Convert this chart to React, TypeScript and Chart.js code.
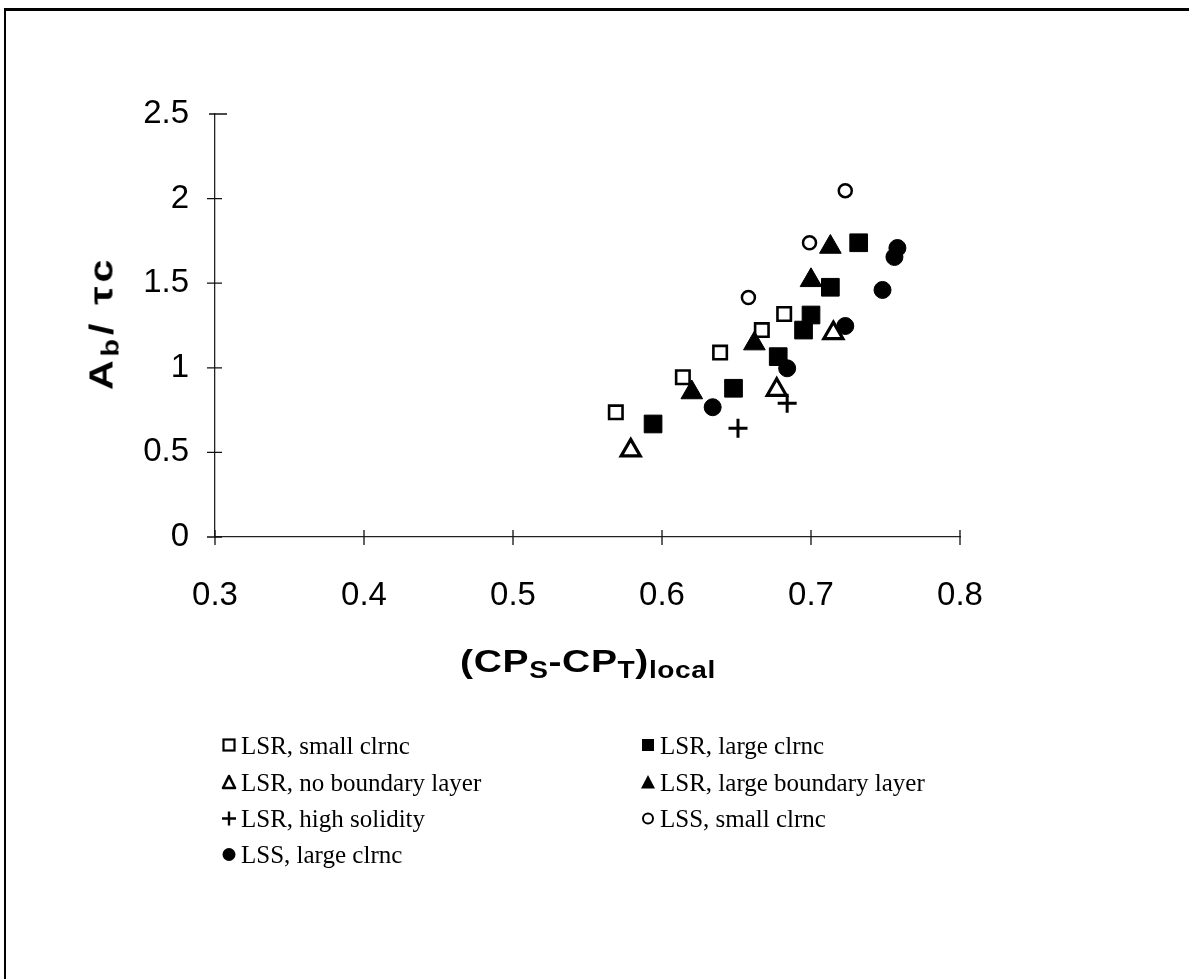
import React, { useEffect, useRef } from "react";
import { Chart, registerables } from "chart.js";

Chart.register(...registerables);

// ---- Data ----
const xTickValues = [0.3, 0.4, 0.5, 0.6, 0.7, 0.8];
const xTickLabels = ["0.3", "0.4", "0.5", "0.6", "0.7", "0.8"];
const yTickValues = [0, 0.5, 1, 1.5, 2, 2.5];
const yTickLabels = ["0", "0.5", "1", "1.5", "2", "2.5"];

const seriesNames = [
  "LSR, small clrnc",
  "LSR, large clrnc",
  "LSR, no boundary layer",
  "LSR, large boundary layer",
  "LSR, high solidity",
  "LSS, small clrnc",
  "LSS, large clrnc",
];

const lsrSmallX = [0.569, 0.614, 0.639, 0.667, 0.682];
const lsrSmallY = [0.737, 0.944, 1.09, 1.223, 1.318];
const lsrLargeX = [0.594, 0.648, 0.678, 0.695, 0.7, 0.713, 0.732];
const lsrLargeY = [0.668, 0.879, 1.066, 1.223, 1.312, 1.476, 1.739];
const lsrNoBLX = [0.579, 0.677, 0.715];
const lsrNoBLY = [0.512, 0.87, 1.205];
const lsrLargeBLX = [0.62, 0.662, 0.7, 0.713];
const lsrLargeBLY = [0.854, 1.143, 1.517, 1.714];
const lsrHighSolX = [0.651, 0.684];
const lsrHighSolY = [0.642, 0.79];
const lssSmallX = [0.658, 0.699, 0.723];
const lssSmallY = [1.415, 1.739, 2.047];
const lssLargeX = [0.634, 0.684, 0.723, 0.748, 0.756, 0.758];
const lssLargeY = [0.767, 0.997, 1.247, 1.46, 1.655, 1.708];

const toPoints = (xs: number[], ys: number[]) => xs.map((x, i) => ({ x, y: ys[i] }));

type MarkerKind = "openSquare" | "filledSquare" | "openTriangle" | "filledTriangle" | "plus" | "openCircle" | "filledCircle";

const seriesStyles: { kind: MarkerKind; pointStyle: any; radius: number; bw: number; filled: boolean }[] = [
  { kind: "openSquare", pointStyle: "rect", radius: 9.5, bw: 2.6, filled: false },
  { kind: "filledSquare", pointStyle: "rect", radius: 12.5, bw: 1, filled: true },
  { kind: "openTriangle", pointStyle: "triangle", radius: 11, bw: 3.2, filled: false },
  { kind: "filledTriangle", pointStyle: "triangle", radius: 12.5, bw: 1, filled: true },
  { kind: "plus", pointStyle: "cross", radius: 9.5, bw: 3, filled: false },
  { kind: "openCircle", pointStyle: "circle", radius: 6.5, bw: 2.5, filled: false },
  { kind: "filledCircle", pointStyle: "circle", radius: 8.5, bw: 1, filled: true },
];

const seriesData = [
  toPoints(lsrSmallX, lsrSmallY),
  toPoints(lsrLargeX, lsrLargeY),
  toPoints(lsrNoBLX, lsrNoBLY),
  toPoints(lsrLargeBLX, lsrLargeBLY),
  toPoints(lsrHighSolX, lsrHighSolY),
  toPoints(lssSmallX, lssSmallY),
  toPoints(lssLargeX, lssLargeY),
];

// ---- Layout constants ----
const W = 1189;
const H = 979;
const AREA_LEFT = 215;
const AREA_RIGHT = 960;
const AREA_TOP = 114;
const AREA_BOTTOM = 537;
const Y_AXIS_W = 80;
const X_AXIS_H = 70;

const crossTicks = {
  id: "crossTicks",
  afterDraw(chart: any) {
    const { ctx, scales } = chart;
    const xs = scales.x;
    const ys = scales.y;
    ctx.save();
    ctx.strokeStyle = "#111";
    ctx.lineWidth = 1.3;
    ctx.beginPath();
    xs.ticks.forEach((t: any) => {
      const px = xs.getPixelForValue(t.value);
      ctx.moveTo(px, ys.bottom - 7);
      ctx.lineTo(px, ys.bottom + 8);
    });
    ys.ticks.forEach((t: any) => {
      const py = ys.getPixelForValue(t.value);
      if (t.value === ys.max) {
        ctx.moveTo(xs.left - 6, py);
        ctx.lineTo(xs.left + 12, py);
      } else {
        ctx.moveTo(xs.left - 8, py);
        ctx.lineTo(xs.left + 7, py);
      }
    });
    ctx.stroke();
    ctx.restore();
  },
};

function LegendMarker({ kind }: { kind: MarkerKind }) {
  const s = 16;
  let el: any = null;
  switch (kind) {
    case "openSquare":
      el = <rect x={2.5} y={3} width={11} height={11} fill="none" stroke="#000" strokeWidth={2.2} />;
      break;
    case "filledSquare":
      el = <rect x={2} y={2.5} width={12} height={12} fill="#000" />;
      break;
    case "openTriangle":
      el = <polygon points="8,2.5 14,14.5 2,14.5" fill="none" stroke="#000" strokeWidth={2.6} strokeLinejoin="round" />;
      break;
    case "filledTriangle":
      el = <polygon points="8,1.5 15,15 1,15" fill="#000" />;
      break;
    case "plus":
      el = (
        <g stroke="#000" strokeWidth={2.4}>
          <line x1={1} y1={9} x2={15} y2={9} />
          <line x1={8} y1={2} x2={8} y2={16} />
        </g>
      );
      break;
    case "openCircle":
      el = <circle cx={8} cy={9} r={5} fill="none" stroke="#000" strokeWidth={2} />;
      break;
    case "filledCircle":
      el = <circle cx={8} cy={9} r={6.5} fill="#000" />;
      break;
  }
  return (
    <svg width={s} height={s + 2} style={{ display: "block" }}>
      {el}
    </svg>
  );
}

const legendPos = [
  { left: 221, top: 745 },
  { left: 640, top: 745 },
  { left: 221, top: 782 },
  { left: 640, top: 782 },
  { left: 221, top: 818 },
  { left: 640, top: 818 },
  { left: 221, top: 854 },
];

export default function App() {
  const canvasRef = useRef<HTMLCanvasElement | null>(null);

  useEffect(() => {
    const canvas = canvasRef.current;
    if (!canvas) return;
    const tickFont = { family: "'Liberation Sans', Arial, sans-serif", size: 33 };
    const chart = new Chart(canvas, {
      type: "scatter",
      data: {
        datasets: seriesData.map((pts, i) => {
          const st = seriesStyles[i];
          return {
            label: seriesNames[i],
            data: pts,
            pointStyle: st.pointStyle,
            pointRadius: st.radius,
            pointBorderWidth: st.bw,
            pointBorderColor: "#000",
            pointBackgroundColor: st.filled ? "#000" : "rgba(255,255,255,0)",
            showLine: false,
          };
        }),
      },
      options: {
        animation: false,
        responsive: false,
        maintainAspectRatio: false,
        events: [],
        layout: {
          padding: {
            left: AREA_LEFT - Y_AXIS_W,
            right: W - AREA_RIGHT,
            top: AREA_TOP,
            bottom: H - AREA_BOTTOM - X_AXIS_H,
          },
        },
        plugins: {
          legend: { display: false },
          tooltip: { enabled: false },
          title: { display: false },
        },
        scales: {
          x: {
            type: "linear",
            min: 0.3,
            max: 0.8,
            afterBuildTicks: (s: any) => {
              s.ticks = xTickValues.map((v) => ({ value: v }));
            },
            afterFit: (s: any) => {
              s.height = X_AXIS_H;
            },
            ticks: {
              font: tickFont,
              color: "#000",
              padding: 39,
              maxRotation: 0,
              autoSkip: false,
              callback: (_v: any, i: number) => xTickLabels[i],
            },
            grid: { display: true, drawOnChartArea: false, drawTicks: false },
            border: { display: true, color: "#222", width: 1.3, dash: [7, 3, 2, 3] },
          },
          y: {
            type: "linear",
            min: 0,
            max: 2.5,
            afterBuildTicks: (s: any) => {
              s.ticks = yTickValues.map((v) => ({ value: v }));
            },
            afterFit: (s: any) => {
              s.width = Y_AXIS_W;
            },
            ticks: {
              font: tickFont,
              color: "#000",
              padding: 26,
              autoSkip: false,
              callback: (_v: any, i: number) => yTickLabels[i],
            },
            grid: { display: true, drawOnChartArea: false, drawTicks: false },
            border: { display: true, color: "#222", width: 1.3, dash: [7, 3, 2, 3] },
          },
        },
      },
      plugins: [crossTicks],
    } as any);
    return () => chart.destroy();
  }, []);

  const boldSans = "'Liberation Sans', Arial, sans-serif";
  const sub = (t: string, size: number, off: number) => (
    <span style={{ fontSize: size, position: "relative", top: off }}>{t}</span>
  );

  return (
    <div style={{ position: "absolute", left: 0, top: 0, width: W, height: H, background: "#fff", overflow: "hidden" }}>
      {/* frame */}
      <div style={{ position: "absolute", left: 4, top: 8, width: W - 4, height: 3, background: "#000" }} />
      <div style={{ position: "absolute", left: 4, top: 8, width: 2, height: H - 8, background: "#000" }} />
      <canvas ref={canvasRef} width={W} height={H} style={{ position: "absolute", left: 0, top: 0, width: W, height: H }} />
      {/* y axis title */}
      <div
        style={{
          position: "absolute",
          left: 101,
          top: 323,
          transform: "translate(-50%, -50%) rotate(-90deg) scaleX(1.25)",
          whiteSpace: "nowrap",
          fontFamily: boldSans,
          fontWeight: "bold",
          fontSize: 33,
          letterSpacing: 3,
          lineHeight: 1,
          color: "#000",
        }}
      >
        A{sub("b", 23, 6)}/ τc
      </div>
      {/* x axis title */}
      <div
        style={{
          position: "absolute",
          left: 588,
          top: 661,
          transform: "translate(-50%, -50%) scaleX(1.22)",
          whiteSpace: "nowrap",
          fontFamily: boldSans,
          fontWeight: "bold",
          fontSize: 32,
          letterSpacing: 0.5,
          lineHeight: 1,
          color: "#000",
        }}
      >
        (CP{sub("S", 23, 6)}-CP{sub("T", 23, 6)}){sub("local", 23, 6)}
      </div>
      {/* legend */}
      {seriesNames.map((name, i) => (
        <div
          key={name}
          style={{
            position: "absolute",
            left: legendPos[i].left,
            top: legendPos[i].top,
            transform: "translateY(-50%)",
            display: "flex",
            alignItems: "center",
            whiteSpace: "nowrap",
            fontFamily: "'Liberation Serif', 'Times New Roman', serif",
            fontSize: 25,
            lineHeight: 1,
            color: "#000",
          }}
        >
          <LegendMarker kind={seriesStyles[i].kind} />
          <span style={{ marginLeft: 4 }}>{name}</span>
        </div>
      ))}
    </div>
  );
}
